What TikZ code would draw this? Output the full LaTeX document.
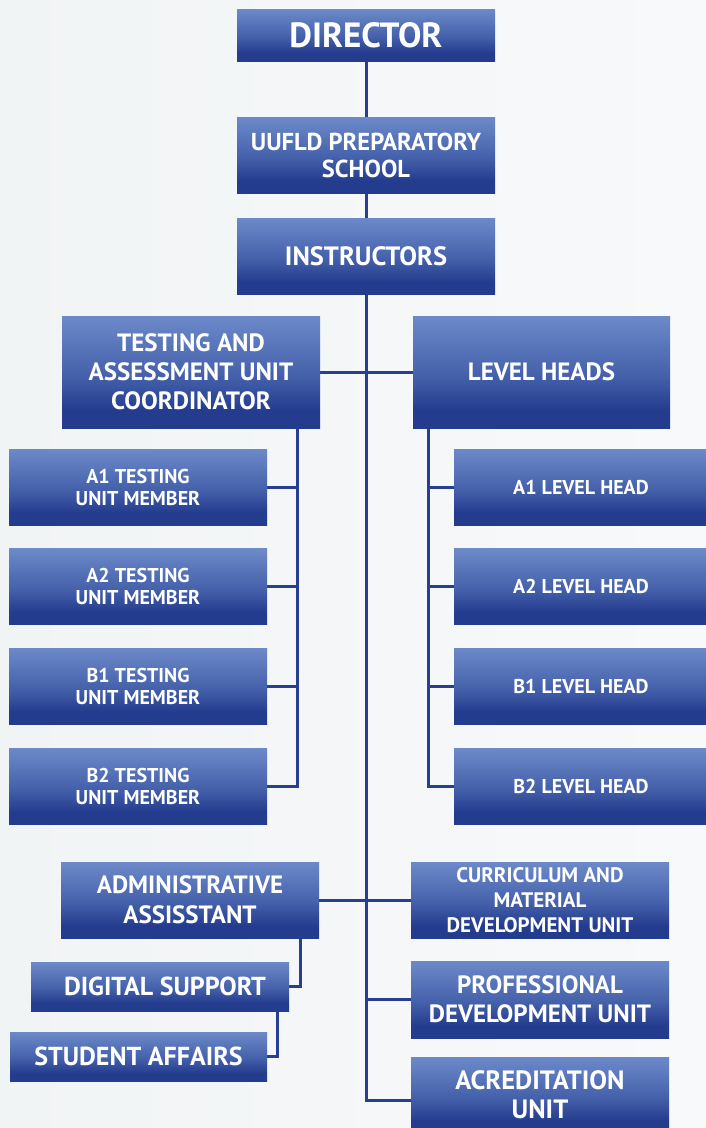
\documentclass[tikz,border=0pt]{standalone}
\usepackage{fontspec}
\setmainfont{PT Sans}
\definecolor{blight}{RGB}{108,138,201}
\definecolor{bmid}{RGB}{68,96,170}
\definecolor{bdark}{RGB}{36,60,142}
\definecolor{linec}{RGB}{40,62,145}
\definecolor{bgl}{RGB}{241,244,245}
\definecolor{bgr}{RGB}{248,249,250}
\pgfdeclareverticalshading{boxshade}{100bp}{color(0bp)=(bdark); color(25bp)=(bdark); color(33bp)=(bdark); color(48bp)=(bmid); color(75bp)=(blight); color(100bp)=(blight)}
\pgfdeclarelayer{back}
\pgfdeclarelayer{lines}
\pgfsetlayers{back,lines,main}
\newcommand{\fsz}[2]{\bfseries\fontsize{#1}{#2}\selectfont}
\begin{document}
\begin{tikzpicture}[x=1pt,y=-1pt,
  box/.style={shade, shading=boxshade, text=white, inner sep=0pt, align=center,
    minimum width=258pt, minimum height=76pt},
  conn/.style={draw=linec, line width=3pt}]
\useasboundingbox (0,0) rectangle (706,1128);
\begin{pgfonlayer}{back}
  \shade[left color=bgl, right color=bgr] (0,0) rectangle (706,1128);
\end{pgfonlayer}
% top chain
\node[box, minimum height=52pt, font=\fsz{35}{37}] (dir) at (366,35) {DIRECTOR};
\node[box, font=\fsz{24.5}{27}] (school) at (366,155) {UUFLD PREPARATORY\\SCHOOL};
\node[box, font=\fsz{26.5}{28}] (instr) at (366,256) {INSTRUCTORS};
% second level
\node[box, minimum height=112pt, font=\fsz{25}{29}] (tau) at (191,372) {TESTING AND\\ASSESSMENT UNIT\\COORDINATOR};
\node[box, minimum width=257pt, minimum height=112pt, font=\fsz{25}{29}] (lh) at (541.5,372) {LEVEL HEADS};
% testing members
\node[box, font=\fsz{20}{22}] (a1t) at (138,487) {A1 TESTING\\UNIT MEMBER};
\node[box, font=\fsz{20}{22}] (a2t) at (138,586.5) {A2 TESTING\\UNIT MEMBER};
\node[box, font=\fsz{20}{22}] (b1t) at (138,686) {B1 TESTING\\UNIT MEMBER};
\node[box, font=\fsz{20}{22}] (b2t) at (138,786) {B2 TESTING\\UNIT MEMBER};
% level heads
\node[box, minimum width=254pt, font=\fsz{20}{22}] (a1l) at (581,487) {A1 LEVEL HEAD};
\node[box, minimum width=254pt, font=\fsz{20}{22}] (a2l) at (581,586.5) {A2 LEVEL HEAD};
\node[box, minimum width=254pt, font=\fsz{20}{22}] (b1l) at (581,686) {B1 LEVEL HEAD};
\node[box, minimum width=254pt, font=\fsz{20}{22}] (b2l) at (581,786) {B2 LEVEL HEAD};
% bottom part
\node[box, font=\fsz{25}{30}] (admin) at (190,900) {ADMINISTRATIVE\\ASSISSTANT};
\node[box, font=\fsz{21}{25}] (curr) at (540,900) {CURRICULUM AND\\MATERIAL\\DEVELOPMENT UNIT};
\node[box, minimum height=49pt, font=\fsz{26}{30}] (digital) at (160,986.5) {\hspace*{10pt}DIGITAL SUPPORT};
\node[box, minimum width=257pt, minimum height=49pt, font=\fsz{26}{30}] (student) at (138.5,1056.5) {STUDENT AFFAIRS};
\node[box, minimum height=77pt, font=\fsz{25}{29}] (prof) at (540,999.5) {PROFESSIONAL\\DEVELOPMENT UNIT};
\node[box, font=\fsz{26.5}{29}] (acred) at (540,1095) {ACREDITATION\\UNIT};
% connectors
\coordinate (tend) at (366,1100);
\coordinate (tv) at (297,428);
\coordinate (lv) at (428,428);
\coordinate (ad) at (300,938);
\coordinate (ds) at (277,1011);
\begin{pgfonlayer}{lines}
  \draw[conn] (dir.south) -- (school.north);
  \draw[conn] (school.south) -- (instr.north);
  \draw[conn] (instr.south) -- (tend) -- (tend -| acred.west);
  \draw[conn] (tau.east) -- (lh.west);
  \draw[conn] (tv) -- (tv |- b2t.east) -- (b2t.east);
  \draw[conn] (a1t.east) -- (a1t.east -| tv);
  \draw[conn] (a2t.east) -- (a2t.east -| tv);
  \draw[conn] (b1t.east) -- (b1t.east -| tv);
  \draw[conn] (lv) -- (lv |- b2l.west) -- (b2l.west);
  \draw[conn] (a1l.west) -- (a1l.west -| lv);
  \draw[conn] (a2l.west) -- (a2l.west -| lv);
  \draw[conn] (b1l.west) -- (b1l.west -| lv);
  \draw[conn] (admin.east) -- (curr.west);
  \draw[conn] (prof.west) -- (prof.west -| instr.south);
  \draw[conn] (ad) -- (ad |- digital.east) -- (digital.east);
  \draw[conn] (ds) -- (ds |- student.east) -- (student.east);
\end{pgfonlayer}
\end{tikzpicture}
\end{document}
